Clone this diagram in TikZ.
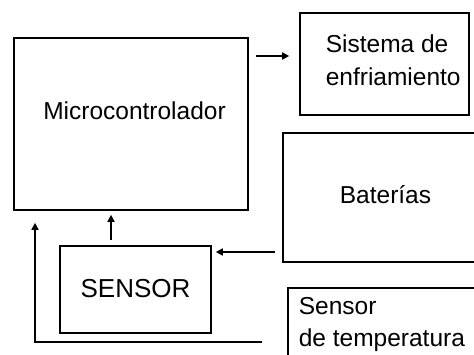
\documentclass[tikz,border=0pt]{standalone}
\usepackage{fontspec}
\setmainfont{Liberation Sans}
\usetikzlibrary{positioning, arrows.meta}

\begin{document}
\begin{tikzpicture}[x=1pt, y=-1pt, line width=1.6pt,
    block/.style={draw, rectangle, inner sep=0pt},
    txt/.style={font=\fontsize{24.5}{33}\selectfont, inner sep=0pt, align=left},
    arr/.style={-{Triangle[length=7pt,width=7pt]}}]
  \clip (0,0) rectangle (474,355);

  % boxes
  \node[block, minimum width=234pt, minimum height=172pt] (micro) at (131,124) {};
  \node[block, minimum width=169pt, minimum height=102pt] (sis) at (384.5,64) {};
  \node[block, minimum width=210pt, minimum height=129pt] (bat) at (388,197.5) {};
  \node[block, minimum width=151pt, minimum height=87pt] (sensor) at (135.5,289.5) {};
  \node[block, anchor=north west, minimum width=220pt, minimum height=100pt] (tsens) at (287,287) {};

  % texts
  \node[txt] at (134.5,111) {Microcontrolador};
  \node[txt, anchor=north west] at (325,34) {Sistema de\\enfriamiento};
  \node[txt] at (385.5,195) {Baterías};
  \node[txt, font=\fontsize{26}{30}\selectfont] at (135.5,288.5) {SENSOR};
  \node[txt, anchor=north west, font=\fontsize{24.5}{32}\selectfont] at (298,297) {Sensor\\de temperatura};

  % connectors
  \coordinate (bend) at (35,342);
  \draw[arr, shorten <=7pt, shorten >=10pt] (micro.east |- 0,56) -- (sis.west |- 0,56);
  \draw[arr, shorten <=5pt, shorten >=4pt] (sensor.north -| 111,0) -- (micro.south -| 111,0);
  \draw[arr, shorten <=7pt, shorten >=4pt] (bat.west |- 0,252) -- (sensor.east |- 0,252);
  \draw[arr, shorten <=25pt, shorten >=12pt] (tsens.west |- bend) -| (micro.south -| bend);
\end{tikzpicture}
\end{document}
